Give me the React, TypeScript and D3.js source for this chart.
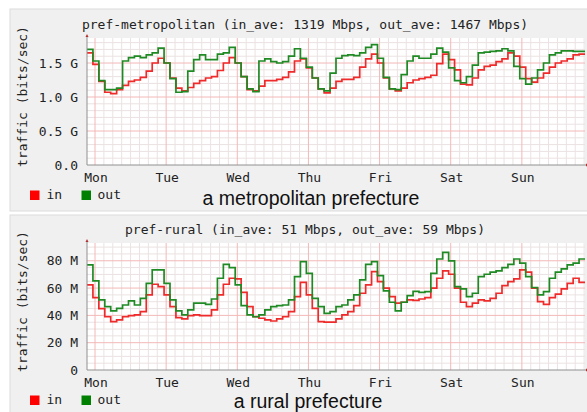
import * as d3 from "d3"

// day labels and series (2-hour samples, starting 2.7h before Monday 00:00)
const days = ["Mon", "Tue", "Wed", "Thu", "Fri", "Sat", "Sun"]
const startHour = -2.7
const stepHours = 2

const metroIn = [
  1.65, 1.48, 1.23, 1.07, 1.05, 1.11, 1.17, 1.23, 1.25, 1.29, 1.38, 1.50, 1.57, 1.50, 1.28, 1.13, 1.09, 1.14, 1.20, 1.24, 1.28, 1.30, 1.39, 1.50, 1.58, 1.50, 1.30, 1.11,
  1.09, 1.16, 1.24, 1.24, 1.26, 1.29, 1.37, 1.53, 1.56, 1.43, 1.28, 1.12, 1.06, 1.13, 1.23, 1.26, 1.26, 1.29, 1.44, 1.56, 1.63, 1.50, 1.28, 1.12, 1.09, 1.13, 1.21, 1.25,
  1.27, 1.29, 1.32, 1.49, 1.63, 1.55, 1.40, 1.19, 1.18, 1.28, 1.40, 1.45, 1.47, 1.52, 1.56, 1.65, 1.60, 1.44, 1.27, 1.22, 1.28, 1.35, 1.44, 1.50, 1.53, 1.56, 1.62, 1.63,
]
const metroOut = [
  1.70, 1.53, 1.24, 1.11, 1.11, 1.13, 1.53, 1.58, 1.60, 1.58, 1.62, 1.65, 1.72, 1.50, 1.27, 1.07, 1.08, 1.38, 1.55, 1.62, 1.55, 1.55, 1.63, 1.65, 1.73, 1.50, 1.30, 1.12,
  1.08, 1.53, 1.56, 1.52, 1.50, 1.52, 1.60, 1.71, 1.57, 1.44, 1.28, 1.12, 1.09, 1.35, 1.57, 1.61, 1.62, 1.61, 1.65, 1.73, 1.77, 1.57, 1.29, 1.12, 1.11, 1.33, 1.53, 1.60,
  1.57, 1.57, 1.63, 1.72, 1.66, 1.43, 1.24, 1.21, 1.30, 1.47, 1.65, 1.66, 1.67, 1.68, 1.71, 1.68, 1.45, 1.27, 1.19, 1.28, 1.40, 1.50, 1.62, 1.65, 1.68, 1.68, 1.67, 1.67,
]
const ruralIn = [
  62.3, 53, 45, 39, 35.4, 36.7, 39, 39.8, 40.3, 42.8, 55, 62.8, 61, 55, 46.4, 38.4, 37.4, 39.8, 40.3, 39.8, 39.8, 44, 55, 62.8, 67.2, 66.7, 56.9, 46.4,
  39, 37.9, 36.7, 35.9, 37.4, 39, 42.8, 53.7, 64.2, 55, 45.2, 35.4, 35, 35, 37.4, 40.3, 42.8, 47.2, 56.2, 62.3, 72, 64.7, 59.9, 53.7, 48.9, 49.6, 51.3, 51,
  52, 53, 59.9, 67.2, 72.6, 70.1, 59.9, 49.6, 46.4, 48.9, 51.3, 50.6, 52.5, 56.2, 61.8, 64.7, 66.7, 73.3, 71.6, 59.9, 50.1, 48.1, 53, 55.5, 59.4, 63.5, 67.2, 64.2,
]
const ruralOut = [
  77, 65.2, 51.3, 46.4, 43.3, 45.2, 47.6, 50.6, 47.6, 52.5, 63.5, 73.3, 73.3, 63.5, 51.3, 43.3, 40.3, 44, 48.9, 48.9, 48.1, 52, 67.2, 77.4, 75, 62.3, 47.2, 40.3,
  39, 40.3, 44, 46.4, 47.2, 47.6, 51.3, 68.4, 79.4, 70.8, 52.5, 46.4, 41.5, 42.8, 46.4, 47.6, 51.3, 55, 66, 77.4, 79.4, 69.1, 57.9, 49.6, 43.3, 49.6, 54.5, 57.6,
  56.9, 57.4, 70.8, 81.3, 86.2, 79.9, 61, 59.4, 53.7, 56.2, 68.4, 70.1, 71.6, 72.6, 75, 77.4, 81.3, 78.2, 68.4, 60.4, 55, 57.4, 67.2, 71.6, 74, 77, 78.2, 81.3,
]

const metroTicks = [0, 0.5, 1.0, 1.5]
const metroTickLabels = ["0.0", "0.5 G", "1.0 G", "1.5 G"]
const ruralTicks = [0, 20, 40, 60, 80]
const ruralTickLabels = ["0", "20 M", "40 M", "60 M", "80 M"]

const MONO = "DejaVu Sans Mono, monospace"
const SANS = "Liberation Sans, Arial, sans-serif"
const IN_COLOR = "#ee2a2a"
const OUT_COLOR = "#1f8a24"

type PanelProps = {
  offsetY: number
  title: string
  subtitle: string
  subtitleX: number
  subtitleY: number
  inData: number[]
  outData: number[]
  yMax: number
  ticks: number[]
  tickLabels: string[]
  minorStep: number
  majorStep: number
}

function Panel({ offsetY, title, subtitle, subtitleX, subtitleY, inData, outData, yMax, ticks, tickLabels, minorStep, majorStep }: PanelProps) {
  const left = 87
  const right = 585
  const top = 38
  const bottom = 165

  const x = d3.scaleLinear().domain([startHour, 165.3]).range([left, right])
  const y = d3.scaleLinear().domain([0, yMax]).range([bottom, top])

  const toPoints = (vals: number[]) => {
    const pts = vals.map((v, i) => ({ t: startHour + i * stepHours, v }))
    pts.push({ t: startHour + vals.length * stepHours, v: vals[vals.length - 1] })
    return pts
  }
  const line = d3.line<{ t: number; v: number }>()
    .x(d => x(d.t))
    .y(d => y(d.v))
    .curve(d3.curveStepAfter)

  const minorH = d3.range(minorStep, yMax, minorStep).filter(v => Math.abs(v / majorStep - Math.round(v / majorStep)) > 1e-6)
  const majorH = d3.range(majorStep, yMax, majorStep)
  const minorV = d3.range(0, 165.3, 3).filter(h => h % 24 !== 0)
  const majorV = days.map((_, i) => i * 24)

  return (
    <g transform={`translate(0,${offsetY})`}>
      <text x={305} y={28.5} textAnchor="middle" fontFamily={MONO} fontSize={13} fill="#222">{title}</text>
      <rect x={left} y={top} width={right - left} height={bottom - top} fill="#fff" />
      {minorV.map(h => (
        <line key={"mv" + h} x1={x(h)} x2={x(h)} y1={top} y2={bottom} stroke="#ebe2e2" strokeWidth={1} />
      ))}
      {minorH.map(v => (
        <line key={"mh" + v} x1={left} x2={right} y1={y(v)} y2={y(v)} stroke="#ebe2e2" strokeWidth={1} />
      ))}
      {majorV.map(h => (
        <line key={"Mv" + h} x1={x(h)} x2={x(h)} y1={top} y2={bottom} stroke="#f3b8b8" strokeWidth={1} />
      ))}
      {majorH.map(v => (
        <line key={"Mh" + v} x1={left} x2={right} y1={y(v)} y2={y(v)} stroke="#f3b8b8" strokeWidth={1} />
      ))}
      <path d={line(toPoints(inData)) || ""} fill="none" stroke={IN_COLOR} strokeWidth={1.7} />
      <path d={line(toPoints(outData)) || ""} fill="none" stroke={OUT_COLOR} strokeWidth={1.7} />
      {/* axes */}
      <line x1={left} x2={left} y1={bottom} y2={top - 2} stroke="#909090" strokeWidth={1} />
      <line x1={left} x2={right + 2} y1={bottom} y2={bottom} stroke="#909090" strokeWidth={1} />
      <path d={`M${left - 1.5},${top - 1} L${left + 1.5},${top - 1} L${left},${top - 4} Z`} fill="#b03030" />
      <path d={`M${right + 1},${bottom - 1.5} L${right + 1},${bottom + 1.5} L${right + 4},${bottom} Z`} fill="#b03030" />
      {ticks.map((t, i) => (
        <text key={"yt" + t} x={78} y={y(t)} textAnchor="end" dominantBaseline="central" fontFamily={MONO} fontSize={13} fill="#222">{tickLabels[i]}</text>
      ))}
      {days.map((d, i) => (
        <text key={d} x={x(i * 24) + 1} y={181.5} textAnchor="middle" fontFamily={MONO} fontSize={13} fill="#222">{d}</text>
      ))}
      <text transform="translate(22,96.5) rotate(-90)" textAnchor="middle" dominantBaseline="central" fontFamily={MONO} fontSize={13} fill="#222">traffic (bits/sec)</text>
      {/* legend */}
      <rect x={30} y={190.5} width={9.5} height={9.5} fill="#ff0000" />
      <text x={46.5} y={199} fontFamily={MONO} fontSize={13} fill="#222">in</text>
      <rect x={81.5} y={190.5} width={9.5} height={9.5} fill="#008000" />
      <text x={97.5} y={199} fontFamily={MONO} fontSize={13} fill="#222">out</text>
      <text x={subtitleX} y={subtitleY} textAnchor="middle" fontFamily={SANS} fontSize={19.5} fill="#111">{subtitle}</text>
    </g>
  )
}

export default function App() {
  return (
    <svg width={587} height={412} style={{ position: "absolute", left: 0, top: 0, background: "#fff" }}>
      <rect x={10} y={9} width={580} height={202} fill="#f0f0f0" stroke="#dcdcdc" strokeWidth={1} />
      <rect x={10} y={215} width={580} height={200} fill="#f0f0f0" stroke="#dcdcdc" strokeWidth={1} />
      <Panel
        offsetY={0}
        title="pref-metropolitan (in_ave: 1319 Mbps, out_ave: 1467 Mbps)"
        subtitle="a metropolitan prefecture"
        subtitleX={311}
        subtitleY={205}
        inData={metroIn}
        outData={metroOut}
        yMax={1.868}
        ticks={metroTicks}
        tickLabels={metroTickLabels}
        minorStep={0.1}
        majorStep={0.5}
      />
      <Panel
        offsetY={205}
        title="pref-rural (in_ave: 51 Mbps, out_ave: 59 Mbps)"
        subtitle="a rural prefecture"
        subtitleX={308}
        subtitleY={203}
        inData={ruralIn}
        outData={ruralOut}
        yMax={93}
        ticks={ruralTicks}
        tickLabels={ruralTickLabels}
        minorStep={5}
        majorStep={20}
      />
    </svg>
  )
}
